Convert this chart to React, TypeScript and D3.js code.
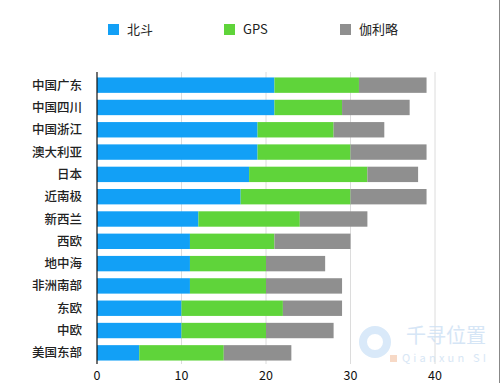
import React from 'react';
import * as d3 from 'd3';

const regions = ['中国广东', '中国四川', '中国浙江', '澳大利亚', '日本', '近南极', '新西兰', '西欧', '地中海', '非洲南部', '东欧', '中欧', '美国东部'];
const beidou = [21, 21, 19, 19, 18, 17, 12, 11, 11, 11, 10, 10, 5];
const gps = [10, 8, 9, 11, 14, 13, 12, 10, 9, 9, 12, 10, 10];
const galileo = [8, 8, 6, 9, 6, 9, 8, 9, 7, 9, 7, 8, 8];
const seriesNames = ['北斗', 'GPS', '伽利略'];
const seriesColors = ['#12a0f6', '#5fd43a', '#8f8f8f'];
const xTicks = [0, 10, 20, 30, 40];

const W = 500;
const H = 383;
const font = '"Noto Sans CJK SC", "Noto Sans", sans-serif';

const App: React.FC = () => {
    const rows = regions.map((r, i) => ({ region: r, 北斗: beidou[i], GPS: gps[i], 伽利略: galileo[i] }));
    const stacked = d3.stack<any>().keys(seriesNames)(rows);

    const x = d3.scaleLinear().domain([0, 40]).range([97, 435]);
    const y = d3.scaleBand().domain(regions).range([74, 364]).paddingInner(0.31).paddingOuter(0.155);

    const legendX = [108, 224, 340];

    return (
        <svg width={W} height={H} style={{ position: 'absolute', left: 0, top: 0, display: 'block', background: '#fff' }} fontFamily={font}>
            {/* legend */}
            {seriesNames.map((s, i) => (
                <g key={s} transform={`translate(${legendX[i]},24)`}>
                    <rect width={11} height={11} fill={seriesColors[i]} />
                    <text x={19} y={10} fontSize={13} fill="#222">{s}</text>
                </g>
            ))}

            {/* grid */}
            {xTicks.slice(1).map(t => (
                <line key={t} x1={x(t)} x2={x(t)} y1={72} y2={364} stroke="#dcdcdc" strokeWidth={1} />
            ))}

            {/* watermark */}
            <g opacity={0.85}>
                <circle cx={375} cy={342} r={12} fill="none" stroke="#d3e6f8" strokeWidth={8} />
                <rect x={390} y={355} width={7} height={7} fill="#f6d3bd" />
                <text x={406} y={343} fontSize={20} fill="#cfe2f5">千寻位置</text>
                <text x={402} y={362} fontSize={11} fill="#d2e3f4" letterSpacing={3.2}>Qianxun SI</text>
            </g>

            {/* bars */}
            {stacked.map((layer, si) => (
                <g key={layer.key} fill={seriesColors[si]}>
                    {layer.map((d, i) => (
                        <rect key={i} x={x(d[0])} y={y(regions[i])} width={x(d[1]) - x(d[0])} height={y.bandwidth()} />
                    ))}
                </g>
            ))}

            {/* y axis */}
            <line x1={97} x2={97} y1={72} y2={364} stroke="#111" strokeWidth={1.2} />
            {regions.map(r => (
                <text key={r} x={82} y={(y(r) ?? 0) + y.bandwidth() / 2} dy="0.36em" textAnchor="end" fontSize={12.5} fontWeight={500} fill="#222">{r}</text>
            ))}

            {/* x tick labels */}
            {xTicks.map(t => (
                <text key={t} x={x(t)} y={380} textAnchor="middle" fontSize={12.5} fill="#111">{t}</text>
            ))}

            <line x1={499.5} x2={499.5} y1={0} y2={H} stroke="#888" strokeWidth={1} />
        </svg>
    );
};

export default App;
